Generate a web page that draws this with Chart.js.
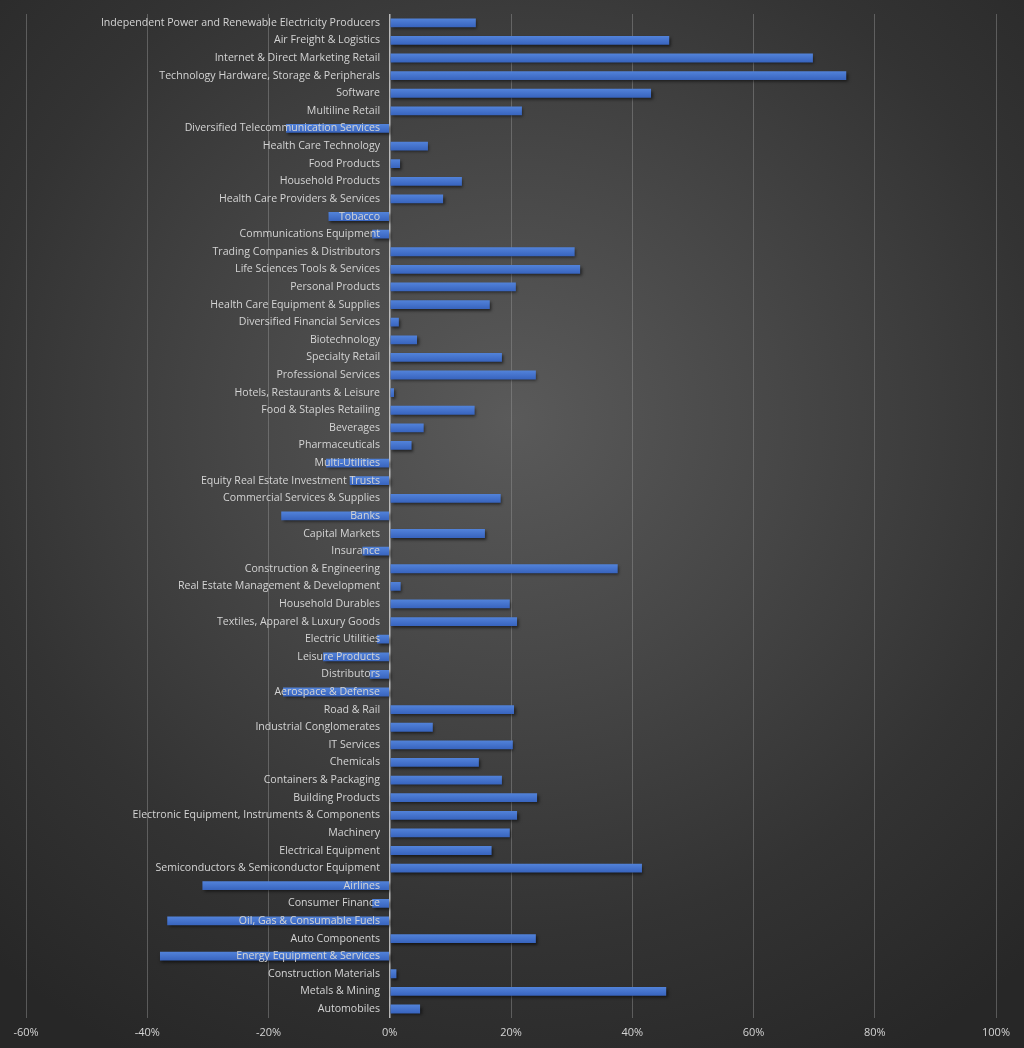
<!DOCTYPE html>
<html>
<head>
<meta charset="utf-8">
<title>Industry returns</title>
<script src="https://cdn.jsdelivr.net/npm/chart.js@4.4.1/dist/chart.umd.min.js"></script>
<style>
  html, body { margin: 0; padding: 0; }
  body {
    width: 1024px; height: 1048px; overflow: hidden;
    background: radial-gradient(ellipse 75% 70% at 50% 40%, #5a5a5a 0%, #474747 35%, #333333 70%, #272727 100%);
  }
  #wrap { position: relative; width: 1024px; height: 1048px; }
</style>
</head>
<body>
<div id="wrap"><canvas id="industryChart"></canvas></div>
<script>
var industries = [
  "Independent Power and Renewable Electricity Producers",
  "Air Freight & Logistics",
  "Internet & Direct Marketing Retail",
  "Technology Hardware, Storage & Peripherals",
  "Software",
  "Multiline Retail",
  "Diversified Telecommunication Services",
  "Health Care Technology",
  "Food Products",
  "Household Products",
  "Health Care Providers & Services",
  "Tobacco",
  "Communications Equipment",
  "Trading Companies & Distributors",
  "Life Sciences Tools & Services",
  "Personal Products",
  "Health Care Equipment & Supplies",
  "Diversified Financial Services",
  "Biotechnology",
  "Specialty Retail",
  "Professional Services",
  "Hotels, Restaurants & Leisure",
  "Food & Staples Retailing",
  "Beverages",
  "Pharmaceuticals",
  "Multi-Utilities",
  "Equity Real Estate Investment Trusts",
  "Commercial Services & Supplies",
  "Banks",
  "Capital Markets",
  "Insurance",
  "Construction & Engineering",
  "Real Estate Management & Development",
  "Household Durables",
  "Textiles, Apparel & Luxury Goods",
  "Electric Utilities",
  "Leisure Products",
  "Distributors",
  "Aerospace & Defense",
  "Road & Rail",
  "Industrial Conglomerates",
  "IT Services",
  "Chemicals",
  "Containers & Packaging",
  "Building Products",
  "Electronic Equipment, Instruments & Components",
  "Machinery",
  "Electrical Equipment",
  "Semiconductors & Semiconductor Equipment",
  "Airlines",
  "Consumer Finance",
  "Oil, Gas & Consumable Fuels",
  "Auto Components",
  "Energy Equipment & Services",
  "Construction Materials",
  "Metals & Mining",
  "Automobiles"
];

// percent change per industry, same order as above
var returns = [
  14.2, 46.1, 69.8, 75.3, 43.1, 21.8, -17.1, 6.3, 1.7, 11.9,
  8.8, -10.1, -2.9, 30.5, 31.4, 20.8, 16.5, 1.5, 4.5, 18.5,
  24.1, 0.7, 14.0, 5.6, 3.6, -10.5, -6.6, 18.3, -17.9, 15.7,
  -4.5, 37.6, 1.8, 19.8, 21.0, -2.1, -11.0, -3.3, -17.6, 20.5,
  7.1, 20.3, 14.7, 18.5, 24.3, 21.0, 19.8, 16.8, 41.6, -30.9,
  -2.9, -36.7, 24.1, -37.9, 1.1, 45.6, 5.0
];

var xMin = -60, xMax = 100, xStep = 20;

// soft drop shadow under the bars
var barShadow = {
  id: 'barShadow',
  beforeDatasetsDraw: function(chart) {
    var c = chart.ctx;
    c.save();
    c.shadowColor = 'rgba(0,0,0,0.55)';
    c.shadowBlur = 3;
    c.shadowOffsetX = 1.5;
    c.shadowOffsetY = 2;
  },
  afterDatasetsDraw: function(chart) {
    chart.ctx.restore();
  }
};

function barFill(context) {
  var chart = context.chart;
  if (!chart.chartArea || context.dataIndex === undefined) return '#4472c4';
  var y = chart.scales.y.getPixelForValue(context.dataIndex);
  var g = chart.ctx.createLinearGradient(0, y - 4.5, 0, y + 4.5);
  g.addColorStop(0, '#5283da');
  g.addColorStop(0.5, '#4573cc');
  g.addColorStop(1, '#3763bd');
  return g;
}

var ctx = document.getElementById("industryChart");
var industryChart = new Chart(ctx, {
  type: 'bar',
  data: {
    labels: industries,
    datasets: [{
      label: 'Return',
      data: returns,
      backgroundColor: barFill,
      borderWidth: 0,
      barPercentage: 0.5,
      categoryPercentage: 1.0
    }]
  },
  plugins: [barShadow],
  options: {
    indexAxis: 'y',
    responsive: true,
    maintainAspectRatio: false,
    animation: false,
    layout: { padding: { left: 26, right: 28, top: 14, bottom: 1 } },
    plugins: {
      legend: { display: false },
      tooltip: { enabled: false }
    },
    scales: {
      x: {
        min: xMin,
        max: xMax,
        ticks: {
          stepSize: xStep,
          color: '#d4d4d4',
          font: { family: 'Open Sans', size: 11 },
          padding: 8,
          callback: function(v) { return v + '%'; }
        },
        grid: {
          color: function(c) { return c.tick && c.tick.value === 0 ? 'rgba(200,200,200,0.9)' : 'rgba(150,150,150,0.45)'; },
          lineWidth: function(c) { return c.tick && c.tick.value === 0 ? 1.5 : 1; },
          drawTicks: false
        },
        border: { display: false }
      },
      y: {
        // labels sit just left of the zero line, drawn over the bars
        position: { x: -1.6 },
        grid: { display: false, drawTicks: false },
        border: { display: false },
        ticks: {
          z: 1,
          autoSkip: false,
          color: '#d4d4d4',
          font: { family: 'Open Sans', size: 10.6 },
          padding: 0
        }
      }
    }
  }
});
</script>
</body>
</html>
